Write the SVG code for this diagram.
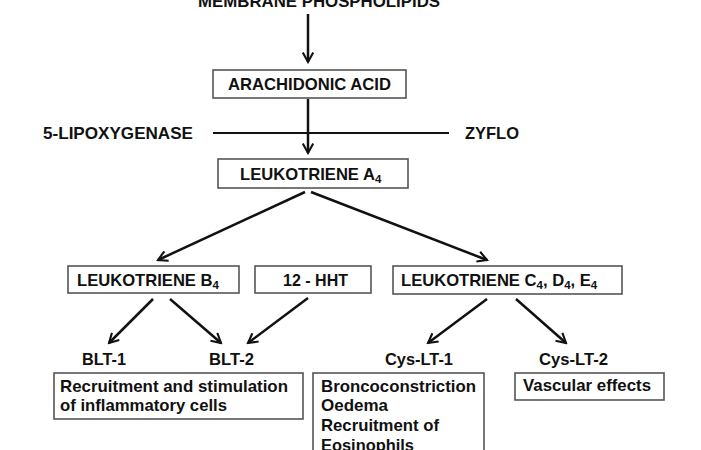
<svg xmlns="http://www.w3.org/2000/svg" width="701" height="450" viewBox="0 0 701 450">
<style>
.t{font-family:"Liberation Sans",Arial,sans-serif;font-weight:bold;font-size:17px;fill:#111}
.u{font-size:16.6px}
.s{font-size:11.5px}
.b{fill:#fff;stroke:#555;stroke-width:1.6}
.c{stroke:#111;stroke-width:2.5;fill:none;marker-end:url(#ah)}
</style>
<defs>
<marker id="ah" viewBox="0 0 12 12" refX="10" refY="6" markerWidth="5" markerHeight="5" orient="auto" markerUnits="strokeWidth">
<path d="M1,1 L10,6 L1,11" fill="none" stroke="#111" stroke-width="2"/>
</marker>
</defs>
<rect width="701" height="450" fill="#fff"/>
<g id="connectors">
<line class="c" x1="308" y1="14" x2="308" y2="62"/>
<line class="c" x1="308" y1="99" x2="308" y2="153"/>
<line x1="213" y1="133" x2="449" y2="133" stroke="#111" stroke-width="2"/>
<line class="c" x1="305" y1="192" x2="158" y2="260"/>
<line class="c" x1="311" y1="192" x2="487" y2="260"/>
<line class="c" x1="153" y1="299" x2="109" y2="343"/>
<line class="c" x1="170" y1="299" x2="221" y2="343"/>
<line class="c" x1="308" y1="298" x2="248" y2="343"/>
<line class="c" x1="487" y1="299" x2="428" y2="343"/>
<line class="c" x1="516" y1="299" x2="566" y2="343"/>
</g>
<g id="membrane"><text class="t" x="198" y="7" textLength="242" lengthAdjust="spacingAndGlyphs">MEMBRANE PHOSPHOLIPIDS</text></g>
<g id="arachidonic"><rect class="b" x="213" y="70" width="193" height="28"/><text class="t" x="228" y="90" textLength="163" lengthAdjust="spacingAndGlyphs">ARACHIDONIC ACID</text></g>
<g id="lipoxygenase"><text class="t" x="43" y="139" textLength="150" lengthAdjust="spacingAndGlyphs">5-LIPOXYGENASE</text></g>
<g id="zyflo"><text class="t" x="465" y="139" textLength="54" lengthAdjust="spacingAndGlyphs">ZYFLO</text></g>
<g id="lta4"><rect class="b" x="218" y="159" width="190" height="29"/><text class="t u" x="240" y="180">LEUKOTRIENE A<tspan class="s" dy="3">4</tspan></text></g>
<g id="ltb4"><rect class="b" x="68" y="266" width="171" height="27"/><text class="t u" x="77" y="286">LEUKOTRIENE B<tspan class="s" dy="3">4</tspan></text></g>
<g id="hht"><rect class="b" x="255" y="266" width="116" height="27"/><text class="t" x="283" y="286" textLength="65" lengthAdjust="spacingAndGlyphs">12 - HHT</text></g>
<g id="ltcde"><rect class="b" x="393" y="266" width="229" height="28"/><text class="t u" x="401" y="286">LEUKOTRIENE C<tspan class="s" dy="3">4</tspan><tspan dy="-3">, D</tspan><tspan class="s" dy="3">4</tspan><tspan dy="-3">, E</tspan><tspan class="s" dy="3">4</tspan></text></g>
<g id="blt1"><text class="t" x="82" y="365" textLength="44" lengthAdjust="spacingAndGlyphs">BLT-1</text></g>
<g id="blt2"><text class="t" x="209" y="365" textLength="45" lengthAdjust="spacingAndGlyphs">BLT-2</text></g>
<g id="cyslt1"><text class="t" x="385" y="365" textLength="68" lengthAdjust="spacingAndGlyphs">Cys-LT-1</text></g>
<g id="cyslt2"><text class="t" x="539" y="365" textLength="69" lengthAdjust="spacingAndGlyphs">Cys-LT-2</text></g>
<g id="recruit"><rect class="b" x="54" y="373" width="249" height="46"/><text class="t" x="60" y="392" textLength="228" lengthAdjust="spacingAndGlyphs">Recruitment and stimulation</text><text class="t" x="60" y="411" textLength="167" lengthAdjust="spacingAndGlyphs">of inflammatory cells</text></g>
<g id="bronco"><rect class="b" x="313" y="373" width="171" height="90"/><text class="t" x="321" y="392" textLength="155" lengthAdjust="spacingAndGlyphs">Broncoconstriction</text><text class="t" x="321" y="411" textLength="67" lengthAdjust="spacingAndGlyphs">Oedema</text><text class="t" x="321" y="431" textLength="118" lengthAdjust="spacingAndGlyphs">Recruitment of</text><text class="t" x="321" y="451" textLength="93" lengthAdjust="spacingAndGlyphs">Eosinophils</text></g>
<g id="vascular"><rect class="b" x="515" y="373" width="149" height="27"/><text class="t" x="523" y="391" textLength="128" lengthAdjust="spacingAndGlyphs">Vascular effects</text></g>
</svg>
